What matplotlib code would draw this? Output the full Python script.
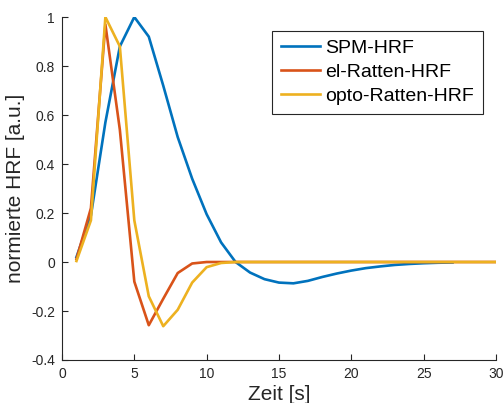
import matplotlib.pyplot as plt

# ─── Data ────────────────────────────────────────────────────────────────────

t_spm = [1, 2, 3, 4, 5, 6, 7, 8, 9, 10, 11, 12, 13, 14,
         15, 16, 17, 18, 19, 20, 21, 22, 23, 24, 25, 26, 27]
spm_hrf = [0.02, 0.19, 0.57, 0.88, 1.0, 0.92, 0.72, 0.51, 0.34, 0.195, 0.08,
           0.0, -0.043, -0.07, -0.084, -0.087, -0.077, -0.061, -0.047, -0.035,
           -0.025, -0.018, -0.012, -0.008, -0.005, -0.003, -0.002]

t_rat = [1, 2, 3, 4, 5, 6, 7, 8, 9, 10, 11, 12, 13, 14, 15,
         16, 17, 18, 19, 20, 21, 22, 23, 24, 25, 26, 27, 28, 29, 30]
el_hrf = [0.012, 0.22, 0.97, 0.54, -0.08, -0.258, -0.15, -0.045, -0.006, 0.0,
          0.0, 0.0, 0.0, 0.0, 0.0, 0.0, 0.0, 0.0, 0.0, 0.0,
          0.0, 0.0, 0.0, 0.0, 0.0, 0.0, 0.0, 0.0, 0.0, 0.0]
opto_hrf = [0.004, 0.17, 1.0, 0.88, 0.17, -0.14, -0.262, -0.195, -0.084, -0.021,
            -0.004, 0.0, 0.0, 0.0, 0.0, 0.0, 0.0, 0.0, 0.0, 0.0,
            0.0, 0.0, 0.0, 0.0, 0.0, 0.0, 0.0, 0.0, 0.0, 0.0]

labels = ['SPM-HRF', 'el-Ratten-HRF', 'opto-Ratten-HRF']
colors = ['#0072BD', '#D95319', '#EDB120']

x_ticks = [0, 5, 10, 15, 20, 25, 30]
y_ticks = [-0.4, -0.2, 0, 0.2, 0.4, 0.6, 0.8, 1]
y_tick_labels = ['-0.4', '-0.2', '0', '0.2', '0.4', '0.6', '0.8', '1']


# ─── Figure ──────────────────────────────────────────────────────────────────

plt.rcParams['font.family'] = ['Liberation Sans', 'DejaVu Sans']
axis_col = '#262626'

fig = plt.figure(figsize=(5.04, 4.03), dpi=100)
ax = fig.add_axes([0.123, 0.1067, 0.861, 0.851])

ax.plot(t_spm, spm_hrf, color=colors[0], lw=1.9, label=labels[0])
ax.plot(t_rat, el_hrf, color=colors[1], lw=1.9, label=labels[1])
ax.plot(t_rat, opto_hrf, color=colors[2], lw=1.9, label=labels[2])

ax.set_xlim(0, 30)
ax.set_ylim(-0.4, 1)
ax.set_xticks(x_ticks)
ax.set_yticks(y_ticks)
ax.set_yticklabels(y_tick_labels)

for side in ['top', 'right']:
    ax.spines[side].set_visible(False)
for side in ['left', 'bottom']:
    ax.spines[side].set_color(axis_col)
    ax.spines[side].set_linewidth(0.8)

ax.tick_params(direction='in', length=4, width=0.8, colors=axis_col,
               labelsize=10, pad=5)

ax.set_xlabel('Zeit [s]', fontsize=15, color=axis_col, labelpad=3)
ax.set_ylabel('normierte HRF [a.u.]', fontsize=15, color=axis_col,
              labelpad=4)

leg = ax.legend(loc='upper right', bbox_to_anchor=(0.970, 0.960),
                borderaxespad=0, fontsize=14, fancybox=False,
                handlelength=2.0, handletextpad=0.3, labelspacing=0.33,
                borderpad=0.45, framealpha=1)
leg.get_frame().set_edgecolor(axis_col)
leg.get_frame().set_linewidth(0.8)
for txt in leg.get_texts():
    txt.set_color('#000000')

plt.savefig('out.png', dpi=100)
